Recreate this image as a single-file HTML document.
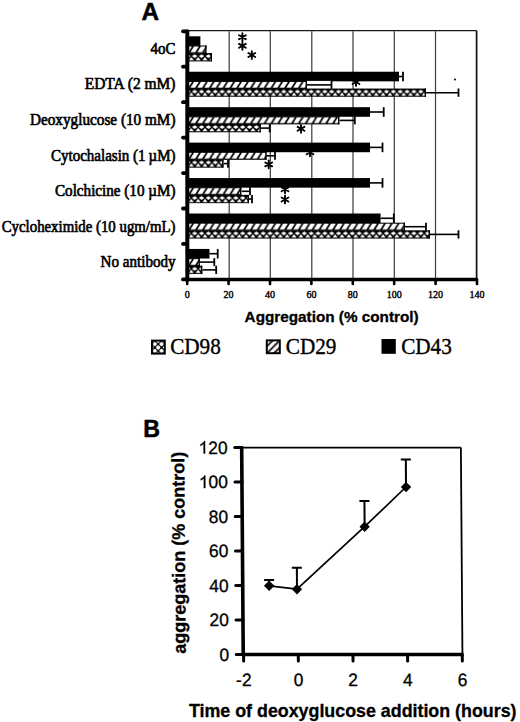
<!DOCTYPE html>
<html><head><meta charset="utf-8"><style>
html,body{margin:0;padding:0;background:#fff;}
body{width:520px;height:722px;overflow:hidden;}
svg{display:block;}
.serif{font-family:"Liberation Serif",serif;}
.sans{font-family:"Liberation Sans",sans-serif;}
</style></head><body>
<svg width="520" height="722" viewBox="0 0 520 722">
<defs>
<pattern id="hatch" patternUnits="userSpaceOnUse" width="6.85" height="40" x="0" y="0">
<rect width="6.85" height="40" fill="#000"/>
<path d="M-3.6 6.7 L0 1.1 L4.8 1.1 L1.2 6.7 Z M3.25 6.7 L6.85 1.1 L11.65 1.1 L8.05 6.7 Z" fill="#fff"/>
</pattern>
<pattern id="cross" patternUnits="userSpaceOnUse" width="6.85" height="40" x="4.1" y="0">
<rect width="6.85" height="40" fill="#000"/>
<path d="M3.43 1.3 L6.2 3.1 L3.43 4.9 L0.66 3.1 Z" fill="#fff"/>
<path d="M0 4.0 L2.6 7.25 L-2.6 7.25 Z M6.85 4.0 L9.45 7.25 L4.25 7.25 Z" fill="#fff"/>
</pattern>
<pattern id="lhatch" patternUnits="userSpaceOnUse" width="7" height="7" x="-1" y="0">
<rect width="7" height="7" fill="#fff"/>
<path d="M-1 8 L8 -1 M-1 1 L1 -1 M6 8 L8 6" stroke="#000" stroke-width="1.6"/>
</pattern>
<pattern id="lcross" patternUnits="userSpaceOnUse" width="6.8" height="6.8" x="-0.6" y="3.5">
<rect width="6.8" height="6.8" fill="#fff"/>
<path d="M-1 -1 L7.8 7.8 M7.8 -1 L-1 7.8" stroke="#000" stroke-width="1.2"/>
<circle cx="0" cy="0" r="1.2"/><circle cx="6.8" cy="0" r="1.2"/><circle cx="0" cy="6.8" r="1.2"/><circle cx="6.8" cy="6.8" r="1.2"/><circle cx="3.4" cy="3.4" r="1.2"/>
</pattern>
</defs>
<rect width="520" height="722" fill="#fff"/>

<line x1="229.2" y1="31.3" x2="229.2" y2="279.5" stroke="#3a3a3a" stroke-width="1.2"/>
<line x1="270.3" y1="31.3" x2="270.3" y2="279.5" stroke="#3a3a3a" stroke-width="1.2"/>
<line x1="311.8" y1="31.3" x2="311.8" y2="279.5" stroke="#3a3a3a" stroke-width="1.2"/>
<line x1="353.0" y1="31.3" x2="353.0" y2="279.5" stroke="#3a3a3a" stroke-width="1.2"/>
<line x1="394.3" y1="31.3" x2="394.3" y2="279.5" stroke="#3a3a3a" stroke-width="1.2"/>
<line x1="435.5" y1="31.3" x2="435.5" y2="279.5" stroke="#3a3a3a" stroke-width="1.2"/>
<line x1="187.2" y1="30.6" x2="476.6" y2="30.6" stroke="#181818" stroke-width="1.4"/>
<line x1="476.6" y1="30.6" x2="476.6" y2="279.5" stroke="#111" stroke-width="1.7"/>
<path d="M242.4 33.300000000000004 V41.1 M239.0 35.25 L245.8 39.150000000000006 M239.0 39.150000000000006 L245.8 35.25" stroke="#000" stroke-width="1.9" stroke-linecap="round"/>
<path d="M242.4 41.9 V49.699999999999996 M239.0 43.849999999999994 L245.8 47.75 M239.0 47.75 L245.8 43.849999999999994" stroke="#000" stroke-width="1.9" stroke-linecap="round"/>
<path d="M251.8 51.1 V58.9 M248.4 53.05 L255.20000000000002 56.95 M248.4 56.95 L255.20000000000002 53.05" stroke="#000" stroke-width="1.9" stroke-linecap="round"/>
<path d="M356 78.1 V85.9 M352.6 80.05 L359.4 83.95 M352.6 83.95 L359.4 80.05" stroke="#000" stroke-width="1.9" stroke-linecap="round"/>
<path d="M301 124.9 V132.70000000000002 M297.6 126.85000000000001 L304.4 130.75 M297.6 130.75 L304.4 126.85000000000001" stroke="#000" stroke-width="1.9" stroke-linecap="round"/>
<path d="M268.7 160.5 V168.3 M265.3 162.45000000000002 L272.09999999999997 166.35 M265.3 166.35 L272.09999999999997 162.45000000000002" stroke="#000" stroke-width="1.9" stroke-linecap="round"/>
<path d="M310 148.4 V156.20000000000002 M306.6 150.35000000000002 L313.4 154.25 M306.6 154.25 L313.4 150.35000000000002" stroke="#000" stroke-width="1.9" stroke-linecap="round"/>
<path d="M285 185.4 V193.20000000000002 M281.6 187.35000000000002 L288.4 191.25 M281.6 191.25 L288.4 187.35000000000002" stroke="#000" stroke-width="1.9" stroke-linecap="round"/>
<path d="M285 195.6 V203.4 M281.6 197.55 L288.4 201.45 M281.6 201.45 L288.4 197.55" stroke="#000" stroke-width="1.9" stroke-linecap="round"/>
<g transform="translate(187.2,36.30)"><rect x="0" y="0" width="13.2" height="9.6" fill="#000"/></g>
<g transform="translate(187.2,45.50)"><rect x="0" y="0" width="19.3" height="8.0" fill="url(#hatch)"/></g>
<rect x="205.1" y="45.5" width="1.4" height="8.0" fill="#000"/>
<g transform="translate(187.2,53.10)"><rect x="0" y="0" width="24.8" height="8.3" fill="url(#cross)"/></g>
<rect x="210.6" y="53.1" width="1.4" height="8.3" fill="#000"/>
<text class="serif" transform="translate(175.5,53.8) scale(1,1.05)" x="0" y="0" font-size="15.2" stroke="#000" stroke-width="0.6" text-anchor="end" textLength="24.9" lengthAdjust="spacingAndGlyphs">4oC</text>
<line x1="399.0" y1="76.5" x2="403.0" y2="76.5" stroke="#000" stroke-width="1.6"/>
<line x1="403.0" y1="71.7" x2="403.0" y2="81.3" stroke="#000" stroke-width="1.8"/>
<g transform="translate(187.2,71.74)"><rect x="0" y="0" width="211.8" height="9.6" fill="#000"/></g>
<rect x="307.0" y="80.9" width="24.5" height="8.0" fill="#fff"/>
<line x1="307.0" y1="84.9" x2="331.5" y2="84.9" stroke="#000" stroke-width="1.6"/>
<line x1="331.5" y1="80.9" x2="331.5" y2="88.9" stroke="#000" stroke-width="1.8"/>
<g transform="translate(187.2,80.94)"><rect x="0" y="0" width="119.8" height="8.0" fill="url(#hatch)"/></g>
<rect x="305.6" y="80.9" width="1.4" height="8.0" fill="#000"/>
<line x1="426.0" y1="92.7" x2="458.5" y2="92.7" stroke="#000" stroke-width="1.6"/>
<line x1="458.5" y1="88.5" x2="458.5" y2="96.8" stroke="#000" stroke-width="1.8"/>
<g transform="translate(187.2,88.54)"><rect x="0" y="0" width="238.8" height="8.3" fill="url(#cross)"/></g>
<rect x="424.6" y="88.5" width="1.4" height="8.3" fill="#000"/>
<text class="serif" transform="translate(175.5,89.0) scale(1,1.05)" x="0" y="0" font-size="15.2" stroke="#000" stroke-width="0.6" text-anchor="end" textLength="90.8" lengthAdjust="spacingAndGlyphs">EDTA (2 mM)</text>
<line x1="370.0" y1="112.0" x2="383.7" y2="112.0" stroke="#000" stroke-width="1.6"/>
<line x1="383.7" y1="107.2" x2="383.7" y2="116.8" stroke="#000" stroke-width="1.8"/>
<g transform="translate(187.2,107.18)"><rect x="0" y="0" width="182.8" height="9.6" fill="#000"/></g>
<line x1="339.4" y1="120.4" x2="354.8" y2="120.4" stroke="#000" stroke-width="1.6"/>
<line x1="354.8" y1="116.4" x2="354.8" y2="124.4" stroke="#000" stroke-width="1.8"/>
<g transform="translate(187.2,116.38)"><rect x="0" y="0" width="152.2" height="8.0" fill="url(#hatch)"/></g>
<rect x="338.0" y="116.4" width="1.4" height="8.0" fill="#000"/>
<line x1="260.8" y1="128.1" x2="269.7" y2="128.1" stroke="#000" stroke-width="1.6"/>
<line x1="269.7" y1="124.0" x2="269.7" y2="132.3" stroke="#000" stroke-width="1.8"/>
<g transform="translate(187.2,123.98)"><rect x="0" y="0" width="73.6" height="8.3" fill="url(#cross)"/></g>
<rect x="259.4" y="124.0" width="1.4" height="8.3" fill="#000"/>
<text class="serif" transform="translate(175.5,125.2) scale(1,1.05)" x="0" y="0" font-size="15.2" stroke="#000" stroke-width="0.6" text-anchor="end" textLength="145.6" lengthAdjust="spacingAndGlyphs">Deoxyglucose (10 mM)</text>
<line x1="370.0" y1="147.4" x2="382.5" y2="147.4" stroke="#000" stroke-width="1.6"/>
<line x1="382.5" y1="142.6" x2="382.5" y2="152.2" stroke="#000" stroke-width="1.8"/>
<g transform="translate(187.2,142.62)"><rect x="0" y="0" width="182.8" height="9.6" fill="#000"/></g>
<line x1="266.6" y1="155.8" x2="275.0" y2="155.8" stroke="#000" stroke-width="1.6"/>
<line x1="275.0" y1="151.8" x2="275.0" y2="159.8" stroke="#000" stroke-width="1.8"/>
<g transform="translate(187.2,151.82)"><rect x="0" y="0" width="79.4" height="8.0" fill="url(#hatch)"/></g>
<rect x="265.2" y="151.8" width="1.4" height="8.0" fill="#000"/>
<line x1="223.5" y1="163.6" x2="228.0" y2="163.6" stroke="#000" stroke-width="1.6"/>
<line x1="228.0" y1="159.4" x2="228.0" y2="167.7" stroke="#000" stroke-width="1.8"/>
<g transform="translate(187.2,159.42)"><rect x="0" y="0" width="36.3" height="8.3" fill="url(#cross)"/></g>
<rect x="222.1" y="159.4" width="1.4" height="8.3" fill="#000"/>
<text class="serif" transform="translate(175.5,161.2) scale(1,1.05)" x="0" y="0" font-size="15.2" stroke="#000" stroke-width="0.6" text-anchor="end" textLength="124.5" lengthAdjust="spacingAndGlyphs">Cytochalasin (1 µM)</text>
<line x1="370.0" y1="182.9" x2="382.5" y2="182.9" stroke="#000" stroke-width="1.6"/>
<line x1="382.5" y1="178.1" x2="382.5" y2="187.7" stroke="#000" stroke-width="1.8"/>
<g transform="translate(187.2,178.06)"><rect x="0" y="0" width="182.8" height="9.6" fill="#000"/></g>
<line x1="241.4" y1="191.3" x2="250.0" y2="191.3" stroke="#000" stroke-width="1.6"/>
<line x1="250.0" y1="187.3" x2="250.0" y2="195.3" stroke="#000" stroke-width="1.8"/>
<g transform="translate(187.2,187.26)"><rect x="0" y="0" width="54.2" height="8.0" fill="url(#hatch)"/></g>
<rect x="240.0" y="187.3" width="1.4" height="8.0" fill="#000"/>
<line x1="249.0" y1="199.0" x2="252.0" y2="199.0" stroke="#000" stroke-width="1.6"/>
<line x1="252.0" y1="194.9" x2="252.0" y2="203.2" stroke="#000" stroke-width="1.8"/>
<g transform="translate(187.2,194.86)"><rect x="0" y="0" width="61.8" height="8.3" fill="url(#cross)"/></g>
<rect x="247.6" y="194.9" width="1.4" height="8.3" fill="#000"/>
<text class="serif" transform="translate(175.5,195.9) scale(1,1.05)" x="0" y="0" font-size="15.2" stroke="#000" stroke-width="0.6" text-anchor="end" textLength="120.5" lengthAdjust="spacingAndGlyphs">Colchicine (10 µM)</text>
<line x1="380.6" y1="218.3" x2="393.8" y2="218.3" stroke="#000" stroke-width="1.6"/>
<line x1="393.8" y1="213.5" x2="393.8" y2="223.1" stroke="#000" stroke-width="1.8"/>
<g transform="translate(187.2,213.50)"><rect x="0" y="0" width="193.4" height="9.6" fill="#000"/></g>
<line x1="405.0" y1="226.7" x2="426.0" y2="226.7" stroke="#000" stroke-width="1.6"/>
<line x1="426.0" y1="222.7" x2="426.0" y2="230.7" stroke="#000" stroke-width="1.8"/>
<g transform="translate(187.2,222.70)"><rect x="0" y="0" width="217.8" height="8.0" fill="url(#hatch)"/></g>
<rect x="403.6" y="222.7" width="1.4" height="8.0" fill="#000"/>
<line x1="430.0" y1="234.4" x2="458.5" y2="234.4" stroke="#000" stroke-width="1.6"/>
<line x1="458.5" y1="230.3" x2="458.5" y2="238.6" stroke="#000" stroke-width="1.8"/>
<g transform="translate(187.2,230.30)"><rect x="0" y="0" width="242.8" height="8.3" fill="url(#cross)"/></g>
<rect x="428.6" y="230.3" width="1.4" height="8.3" fill="#000"/>
<text class="serif" transform="translate(175.5,231.6) scale(1,1.05)" x="0" y="0" font-size="15.2" stroke="#000" stroke-width="0.6" text-anchor="end" textLength="173.8" lengthAdjust="spacingAndGlyphs">Cycloheximide (10 ugm/mL)</text>
<line x1="209.5" y1="253.7" x2="217.7" y2="253.7" stroke="#000" stroke-width="1.6"/>
<line x1="217.7" y1="248.9" x2="217.7" y2="258.5" stroke="#000" stroke-width="1.8"/>
<g transform="translate(187.2,248.94)"><rect x="0" y="0" width="22.3" height="9.6" fill="#000"/></g>
<line x1="199.9" y1="262.1" x2="214.3" y2="262.1" stroke="#000" stroke-width="1.6"/>
<line x1="214.3" y1="258.1" x2="214.3" y2="266.1" stroke="#000" stroke-width="1.8"/>
<g transform="translate(187.2,258.14)"><rect x="0" y="0" width="12.7" height="8.0" fill="url(#hatch)"/></g>
<rect x="198.5" y="258.1" width="1.4" height="8.0" fill="#000"/>
<line x1="202.3" y1="269.9" x2="216.2" y2="269.9" stroke="#000" stroke-width="1.6"/>
<line x1="216.2" y1="265.7" x2="216.2" y2="274.0" stroke="#000" stroke-width="1.8"/>
<g transform="translate(187.2,265.74)"><rect x="0" y="0" width="15.1" height="8.3" fill="url(#cross)"/></g>
<rect x="200.9" y="265.7" width="1.4" height="8.3" fill="#000"/>
<text class="serif" transform="translate(175.5,266.5) scale(1,1.05)" x="0" y="0" font-size="15.2" stroke="#000" stroke-width="0.6" text-anchor="end" textLength="74.9" lengthAdjust="spacingAndGlyphs">No antibody</text>
<circle cx="455" cy="79.6" r="1" fill="#000"/>
<line x1="187.29999999999998" y1="29.8" x2="187.29999999999998" y2="281.2" stroke="#000" stroke-width="4"/>
<line x1="185.7" y1="279.5" x2="477.6" y2="279.5" stroke="#000" stroke-width="3.4"/>
<line x1="183" y1="31.3" x2="187.2" y2="31.3" stroke="#000" stroke-width="3.8" stroke-linecap="round"/>
<line x1="183" y1="66.7" x2="187.2" y2="66.7" stroke="#000" stroke-width="3.8" stroke-linecap="round"/>
<line x1="183" y1="102.2" x2="187.2" y2="102.2" stroke="#000" stroke-width="3.8" stroke-linecap="round"/>
<line x1="183" y1="137.6" x2="187.2" y2="137.6" stroke="#000" stroke-width="3.8" stroke-linecap="round"/>
<line x1="183" y1="173.1" x2="187.2" y2="173.1" stroke="#000" stroke-width="3.8" stroke-linecap="round"/>
<line x1="183" y1="208.5" x2="187.2" y2="208.5" stroke="#000" stroke-width="3.8" stroke-linecap="round"/>
<line x1="183" y1="243.9" x2="187.2" y2="243.9" stroke="#000" stroke-width="3.8" stroke-linecap="round"/>
<line x1="183" y1="279.4" x2="187.2" y2="279.4" stroke="#000" stroke-width="3.8" stroke-linecap="round"/>
<line x1="187.2" y1="279.5" x2="187.2" y2="284" stroke="#000" stroke-width="2.6" stroke-linecap="round"/>
<text class="serif" x="187.2" y="298.3" font-size="10" stroke="#000" stroke-width="0.4" text-anchor="middle">0</text>
<line x1="228.6" y1="279.5" x2="228.6" y2="284" stroke="#000" stroke-width="2.6" stroke-linecap="round"/>
<text class="serif" x="228.6" y="298.3" font-size="10" stroke="#000" stroke-width="0.4" text-anchor="middle">20</text>
<line x1="270.0" y1="279.5" x2="270.0" y2="284" stroke="#000" stroke-width="2.6" stroke-linecap="round"/>
<text class="serif" x="270.0" y="298.3" font-size="10" stroke="#000" stroke-width="0.4" text-anchor="middle">40</text>
<line x1="311.4" y1="279.5" x2="311.4" y2="284" stroke="#000" stroke-width="2.6" stroke-linecap="round"/>
<text class="serif" x="311.4" y="298.3" font-size="10" stroke="#000" stroke-width="0.4" text-anchor="middle">60</text>
<line x1="352.8" y1="279.5" x2="352.8" y2="284" stroke="#000" stroke-width="2.6" stroke-linecap="round"/>
<text class="serif" x="352.8" y="298.3" font-size="10" stroke="#000" stroke-width="0.4" text-anchor="middle">80</text>
<line x1="394.2" y1="279.5" x2="394.2" y2="284" stroke="#000" stroke-width="2.6" stroke-linecap="round"/>
<text class="serif" x="394.2" y="298.3" font-size="10" stroke="#000" stroke-width="0.4" text-anchor="middle">100</text>
<line x1="435.6" y1="279.5" x2="435.6" y2="284" stroke="#000" stroke-width="2.6" stroke-linecap="round"/>
<text class="serif" x="435.6" y="298.3" font-size="10" stroke="#000" stroke-width="0.4" text-anchor="middle">120</text>
<line x1="477.0" y1="279.5" x2="477.0" y2="284" stroke="#000" stroke-width="2.6" stroke-linecap="round"/>
<text class="serif" x="477.0" y="298.3" font-size="10" stroke="#000" stroke-width="0.4" text-anchor="middle">140</text>
<text class="sans" x="141.6" y="19.5" font-size="24.3" font-weight="bold" stroke="#000" stroke-width="0.5">A</text>
<text class="sans" x="244.6" y="321.5" font-size="14" font-weight="bold" stroke="#000" stroke-width="0.3" textLength="174" lengthAdjust="spacingAndGlyphs">Aggregation (% control)</text>
<g transform="translate(152,340.6)"><rect x="0" y="0" width="12.8" height="13" fill="url(#lcross)" stroke="#000" stroke-width="2"/></g>
<text class="serif" transform="translate(170.2,354) scale(1,1.04)" font-size="21.2" stroke="#000" stroke-width="0.35">CD98</text>
<g transform="translate(266.8,340.4)"><rect x="0" y="0" width="13" height="12.8" fill="url(#lhatch)" stroke="#000" stroke-width="2"/></g>
<text class="serif" transform="translate(285.8,354) scale(1,1.04)" font-size="21.2" stroke="#000" stroke-width="0.35">CD29</text>
<rect x="381.5" y="339" width="14.3" height="14.8" fill="#000"/>
<text class="serif" transform="translate(401.2,354) scale(1,1.04)" font-size="21.2" stroke="#000" stroke-width="0.35">CD43</text>
<text class="sans" x="143.2" y="437.4" font-size="23.2" font-weight="bold" stroke="#000" stroke-width="0.5">B</text>
<g transform="matrix(1,0,0.0075,1,-4.1250,0)">
<line x1="242.45" y1="447.6" x2="461.65" y2="447.6" stroke="#000" stroke-width="1.6"/>
<line x1="461.65" y1="447.6" x2="461.65" y2="654.5" stroke="#000" stroke-width="1.8"/>
<line x1="242.45" y1="446.6" x2="242.45" y2="656.0" stroke="#000" stroke-width="3.6"/>
<line x1="240.95" y1="654.5" x2="462.65" y2="654.5" stroke="#000" stroke-width="3.3"/>
<line x1="235.5" y1="654.5" x2="242.45" y2="654.5" stroke="#000" stroke-width="3" stroke-linecap="round"/>
<g transform="translate(218.72,660.60) scale(1,1.03)"><text class="sans" x="0.00" y="0.0" font-size="17.4" stroke="#000" stroke-width="0.3">0</text></g>
<line x1="235.5" y1="620.0" x2="242.45" y2="620.0" stroke="#000" stroke-width="3" stroke-linecap="round"/>
<g transform="translate(209.05,626.10) scale(1,1.03)"><text class="sans" x="0.00" y="0.0" font-size="17.4" stroke="#000" stroke-width="0.3">2</text>
<text class="sans" x="9.68" y="0.0" font-size="17.4" stroke="#000" stroke-width="0.3">0</text></g>
<line x1="235.5" y1="585.5" x2="242.45" y2="585.5" stroke="#000" stroke-width="3" stroke-linecap="round"/>
<g transform="translate(209.05,591.60) scale(1,1.03)"><text class="sans" x="0.00" y="0.0" font-size="17.4" stroke="#000" stroke-width="0.3">4</text>
<text class="sans" x="9.68" y="0.0" font-size="17.4" stroke="#000" stroke-width="0.3">0</text></g>
<line x1="235.5" y1="551.0" x2="242.45" y2="551.0" stroke="#000" stroke-width="3" stroke-linecap="round"/>
<g transform="translate(209.05,557.10) scale(1,1.03)"><text class="sans" x="0.00" y="0.0" font-size="17.4" stroke="#000" stroke-width="0.3">6</text>
<text class="sans" x="9.68" y="0.0" font-size="17.4" stroke="#000" stroke-width="0.3">0</text></g>
<line x1="235.5" y1="516.5" x2="242.45" y2="516.5" stroke="#000" stroke-width="3" stroke-linecap="round"/>
<g transform="translate(209.05,522.60) scale(1,1.03)"><text class="sans" x="0.00" y="0.0" font-size="17.4" stroke="#000" stroke-width="0.3">8</text>
<text class="sans" x="9.68" y="0.0" font-size="17.4" stroke="#000" stroke-width="0.3">0</text></g>
<line x1="235.5" y1="482.0" x2="242.45" y2="482.0" stroke="#000" stroke-width="3" stroke-linecap="round"/>
<g transform="translate(199.37,488.10) scale(1,1.03)"><polygon points="4.95,0.00 6.48,0.00 6.48,-12.15 5.49,-12.15 5.10,-11.35 4.25,-10.44 3.14,-9.61 1.89,-8.99 1.89,-7.55 2.80,-7.96 3.82,-8.54 4.95,-9.51" fill="#000" stroke="#000" stroke-width="0.3"/>
<text class="sans" x="9.68" y="0.0" font-size="17.4" stroke="#000" stroke-width="0.3">0</text>
<text class="sans" x="19.35" y="0.0" font-size="17.4" stroke="#000" stroke-width="0.3">0</text></g>
<line x1="235.5" y1="447.5" x2="242.45" y2="447.5" stroke="#000" stroke-width="3" stroke-linecap="round"/>
<g transform="translate(199.37,453.60) scale(1,1.03)"><polygon points="4.95,0.00 6.48,0.00 6.48,-12.15 5.49,-12.15 5.10,-11.35 4.25,-10.44 3.14,-9.61 1.89,-8.99 1.89,-7.55 2.80,-7.96 3.82,-8.54 4.95,-9.51" fill="#000" stroke="#000" stroke-width="0.3"/>
<text class="sans" x="9.68" y="0.0" font-size="17.4" stroke="#000" stroke-width="0.3">2</text>
<text class="sans" x="19.35" y="0.0" font-size="17.4" stroke="#000" stroke-width="0.3">0</text></g>
<line x1="242.8" y1="654.5" x2="242.8" y2="661" stroke="#000" stroke-width="3" stroke-linecap="round"/>
<text class="sans" transform="translate(242.80,685.6) scale(1,1.03)" font-size="17.4" stroke="#000" stroke-width="0.3" text-anchor="middle">-2</text>
<line x1="297.5" y1="654.5" x2="297.5" y2="661" stroke="#000" stroke-width="3" stroke-linecap="round"/>
<text class="sans" transform="translate(297.48,685.6) scale(1,1.03)" font-size="17.4" stroke="#000" stroke-width="0.3" text-anchor="middle">0</text>
<line x1="352.2" y1="654.5" x2="352.2" y2="661" stroke="#000" stroke-width="3" stroke-linecap="round"/>
<text class="sans" transform="translate(352.16,685.6) scale(1,1.03)" font-size="17.4" stroke="#000" stroke-width="0.3" text-anchor="middle">2</text>
<line x1="406.8" y1="654.5" x2="406.8" y2="661" stroke="#000" stroke-width="3" stroke-linecap="round"/>
<text class="sans" transform="translate(406.84,685.6) scale(1,1.03)" font-size="17.4" stroke="#000" stroke-width="0.3" text-anchor="middle">4</text>
<line x1="461.5" y1="654.5" x2="461.5" y2="661" stroke="#000" stroke-width="3" stroke-linecap="round"/>
<text class="sans" transform="translate(461.52,685.6) scale(1,1.03)" font-size="17.4" stroke="#000" stroke-width="0.3" text-anchor="middle">6</text>
<polyline points="268.9,585.8 296.7,589.2 364.8,526.7 406.5,487.0" fill="none" stroke="#000" stroke-width="1.7"/>
<line x1="268.9" y1="585.8" x2="268.9" y2="580.0" stroke="#000" stroke-width="2"/>
<line x1="263.9" y1="580.0" x2="273.9" y2="580.0" stroke="#000" stroke-width="2"/>
<path d="M268.9 580.6 L274.1 585.8 L268.9 591.0 L263.7 585.8 Z" fill="#000"/>
<line x1="296.7" y1="589.2" x2="296.7" y2="567.7" stroke="#000" stroke-width="2"/>
<line x1="291.7" y1="567.7" x2="301.7" y2="567.7" stroke="#000" stroke-width="2"/>
<path d="M296.7 584.0 L301.9 589.2 L296.7 594.4 L291.5 589.2 Z" fill="#000"/>
<line x1="364.8" y1="526.7" x2="364.8" y2="501.0" stroke="#000" stroke-width="2"/>
<line x1="359.8" y1="501.0" x2="369.8" y2="501.0" stroke="#000" stroke-width="2"/>
<path d="M364.8 521.5 L370.0 526.7 L364.8 531.9 L359.6 526.7 Z" fill="#000"/>
<line x1="406.5" y1="487.0" x2="406.5" y2="459.6" stroke="#000" stroke-width="2"/>
<line x1="401.5" y1="459.6" x2="411.5" y2="459.6" stroke="#000" stroke-width="2"/>
<path d="M406.5 481.8 L411.7 487.0 L406.5 492.2 L401.3 487.0 Z" fill="#000"/>
<text class="sans" transform="translate(184.9,552.7) rotate(-90)" font-size="18" font-weight="bold" stroke="#000" stroke-width="0.3" text-anchor="middle">aggregation (% control)</text>
</g>
<text class="sans" x="189" y="717.2" font-size="17.8" font-weight="bold" stroke="#000" stroke-width="0.3" textLength="327.5" lengthAdjust="spacingAndGlyphs">Time of deoxyglucose addition (hours)</text>
</svg>
</body></html>
